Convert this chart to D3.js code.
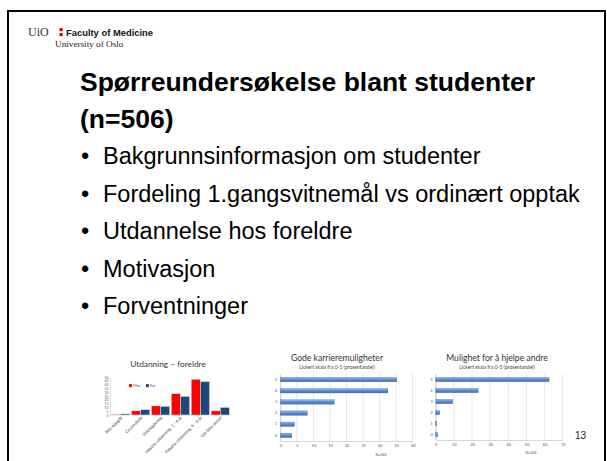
<!DOCTYPE html>
<html>
<head>
<meta charset="utf-8">
<script src="https://cdn.jsdelivr.net/npm/d3@7"></script>
<style>
  body { margin: 0; background: #fff; }
  svg { display: block; }
</style>
</head>
<body>
<svg width="607" height="461"></svg>
<script>
  // slide text
  const titleLines = ["Spørreundersøkelse blant studenter", "(n=506)"];
  const bullets = [
    "Bakgrunnsinformasjon om studenter",
    "Fordeling 1.gangsvitnemål vs ordinært opptak",
    "Utdannelse hos foreldre",
    "Motivasjon",
    "Forventninger"
  ];

  // chart 1: education of parents (%)
  const eduCats = ["Ikke oppgitt", "Grunnskole", "Videregående",
    "Høyere utdanning, 1 - 4 år", "Høyere utdanning, 4 - 6 år", "Vet ikke/annet"];
  const eduSeries = ["Mor", "Far"];
  const eduMor = [1, 5.5, 12, 28, 47, 5.5];
  const eduFar = [1.5, 7, 11.5, 24.5, 44, 10];
  const eduTicks = [0, 5, 10, 15, 20, 25, 30, 35, 40, 45, 50];

  // chart 2 and 3: Likert 0-5 (%)
  const likertCats = ["5", "4", "3", "2", "1", "0"];
  const karriere = [35.2, 32.5, 16.3, 8.2, 4.3, 3.5];
  const karriereTicks = [0, 5, 10, 15, 20, 25, 30, 35, 40];
  const hjelpe = [62.5, 23.5, 9.4, 2.2, 0.6, 1.1];
  const hjelpeTicks = [0, 10, 20, 30, 40, 50, 60, 70];

  const svg = d3.select("svg");
  const sans = "'Liberation Sans', Arial, sans-serif";
  const serif = "'Liberation Serif', 'Times New Roman', serif";
  const small = "Lato, 'Open Sans', sans-serif";

  // frame
  svg.append("rect")
    .attr("x", 8).attr("y", 11).attr("width", 597).attr("height", 470)
    .attr("fill", "none").attr("stroke", "#000").attr("stroke-width", 2);

  // header logo
  svg.append("text").attr("x", 28).attr("y", 36)
    .attr("font-family", serif).attr("font-size", 12).attr("fill", "#333")
    .text("UiO");
  [28, 33].forEach(yy => svg.append("rect")
    .attr("x", 59.5).attr("y", yy).attr("width", 3.2).attr("height", 3.2)
    .attr("rx", 0.8).attr("fill", "#dd0000"));
  svg.append("text").attr("x", 66).attr("y", 36)
    .attr("font-family", sans).attr("font-weight", "bold").attr("font-size", 9.4)
    .attr("fill", "#111").text("Faculty of Medicine");
  svg.append("text").attr("x", 55).attr("y", 46.5)
    .attr("font-family", serif).attr("font-size", 9.2).attr("fill", "#222")
    .text("University of Oslo");

  // title
  svg.selectAll("text.title").data(titleLines).join("text")
    .attr("class", "title")
    .attr("x", 80).attr("y", (d, i) => 91 + i * 37)
    .attr("font-family", sans).attr("font-weight", "bold").attr("font-size", 26.5)
    .attr("fill", "#000").text(d => d);

  // bullets
  const bl = svg.selectAll("g.bullet").data(bullets).join("g")
    .attr("class", "bullet")
    .attr("transform", (d, i) => `translate(0,${164 + i * 37.5})`);
  bl.append("text").attr("x", 81).attr("font-family", sans).attr("font-size", 23.5)
    .text("•");
  bl.append("text").attr("x", 103).attr("font-family", sans).attr("font-size", 23.5)
    .text(d => d);

  // ---------- chart 1: grouped bars ----------
  const x0 = d3.scaleBand().domain(eduCats).range([111, 230]).paddingInner(0.08).paddingOuter(0.03);
  const x1 = d3.scaleBand().domain(eduSeries).range([0, x0.bandwidth()]);
  const y1 = d3.scaleLinear().domain([0, 50]).range([415, 377]);
  const eduColor = d3.scaleOrdinal().domain(eduSeries).range(["#ff0000", "#1f497d"]);
  const eduRows = eduCats.map((c, i) => ({ cat: c, Mor: eduMor[i], Far: eduFar[i] }));

  const c1 = svg.append("g");
  c1.append("text").attr("x", 168).attr("y", 367).attr("text-anchor", "middle")
    .attr("font-family", small).attr("font-size", 8.3).attr("fill", "#333")
    .text("Utdanning – foreldre");

  const yAx = c1.append("g").attr("transform", "translate(110,0)")
    .call(d3.axisLeft(y1).tickValues(eduTicks).tickSize(0).tickPadding(1.5));
  yAx.select(".domain").attr("stroke", "#bbb").attr("stroke-width", 0.5);
  yAx.selectAll("text").attr("font-family", small).attr("font-size", 3.5).attr("fill", "#666");

  c1.append("line").attr("x1", 110).attr("x2", 231).attr("y1", 415).attr("y2", 415)
    .attr("stroke", "#bbb").attr("stroke-width", 0.5);

  const grp = c1.selectAll("g.grp").data(eduRows).join("g")
    .attr("class", "grp").attr("transform", d => `translate(${x0(d.cat)},0)`);
  grp.selectAll("rect").data(d => eduSeries.map(s => ({ s, v: d[s] }))).join("rect")
    .attr("x", d => x1(d.s)).attr("width", x1.bandwidth())
    .attr("y", d => y1(d.v)).attr("height", d => y1(0) - y1(d.v))
    .attr("fill", d => eduColor(d.s))
    .attr("stroke", "#e6e6e6").attr("stroke-width", 0.5);

  c1.selectAll("text.cat").data(eduCats).join("text")
    .attr("class", "cat")
    .attr("transform", d => `translate(${x0(d) + x0.bandwidth() / 2 + 2},418) rotate(-45)`)
    .attr("text-anchor", "end").attr("font-family", small).attr("font-size", 4.4)
    .attr("fill", "#444").text(d => d);

  const leg = c1.selectAll("g.leg").data(eduSeries).join("g")
    .attr("class", "leg").attr("transform", (d, i) => `translate(${129 + i * 17},${y1(38.5)})`);
  leg.append("rect").attr("y", -1.6).attr("width", 3).attr("height", 3).attr("fill", d => eduColor(d));
  leg.append("text").attr("x", 4).attr("dy", "0.35em").attr("font-family", small)
    .attr("font-size", 4).attr("fill", "#555").text(d => d);

  // ---------- bar gradient ----------
  const defs = svg.append("defs");
  const grad = defs.append("linearGradient").attr("id", "blueBar")
    .attr("x1", 0).attr("y1", 0).attr("x2", 0).attr("y2", 1);
  grad.append("stop").attr("offset", "0%").attr("stop-color", "#9dbde9");
  grad.append("stop").attr("offset", "45%").attr("stop-color", "#5b8ed6");
  grad.append("stop").attr("offset", "100%").attr("stop-color", "#3c6fb8");

  // ---------- chart 2 and 3: horizontal bars ----------
  function hbar(opts) {
    const g = svg.append("g");
    const x = d3.scaleLinear().domain([0, opts.max]).range(opts.xr);
    const y = d3.scaleBand().domain(likertCats).range(opts.yr).paddingInner(0.6).paddingOuter(0.3);

    g.append("text").attr("x", opts.tx).attr("y", 361).attr("text-anchor", "middle")
      .attr("font-family", small).attr("font-size", 8.6).attr("fill", "#333").text(opts.title);
    g.append("text").attr("x", opts.tx).attr("y", 368.5).attr("text-anchor", "middle")
      .attr("font-family", small).attr("font-size", 5).attr("fill", "#444")
      .text("Lickert skala fra 0-5 (prosentandel)");

    g.selectAll("line.grid").data(opts.ticks).join("line")
      .attr("class", "grid")
      .attr("x1", d => x(d)).attr("x2", d => x(d))
      .attr("y1", opts.yr[0]).attr("y2", opts.yr[1])
      .attr("stroke", "#d9d9d9").attr("stroke-width", 0.6);

    const xa = g.append("g").attr("transform", `translate(0,${opts.yr[1]})`)
      .call(d3.axisBottom(x).tickValues(opts.ticks).tickSize(0).tickPadding(3));
    xa.select(".domain").attr("stroke", "#bbb").attr("stroke-width", 0.6);
    xa.selectAll("text").attr("font-family", small).attr("font-size", 4).attr("fill", "#555");

    const ya = g.append("g").attr("transform", `translate(${opts.xr[0]},0)`)
      .call(d3.axisLeft(y).tickSize(0).tickPadding(3));
    ya.select(".domain").attr("stroke", "#bbb").attr("stroke-width", 0.6);
    ya.selectAll("text").attr("font-family", small).attr("font-size", 3.8).attr("fill", "#555");

    g.selectAll("rect.bar").data(opts.values).join("rect")
      .attr("class", "bar")
      .attr("x", x(0)).attr("y", (d, i) => y(likertCats[i]))
      .attr("width", d => x(d) - x(0)).attr("height", y.bandwidth())
      .attr("fill", "url(#blueBar)").attr("stroke", "#3a66a8").attr("stroke-width", 0.3);

    g.append("text").attr("x", opts.nx).attr("y", opts.ny).attr("text-anchor", "middle")
      .attr("font-family", small).attr("font-size", 3.6).attr("fill", "#555").text(opts.n);
  }

  hbar({ title: "Gode karrieremuligheter", values: karriere, max: 40, ticks: karriereTicks,
    xr: [280.3, 412.7], yr: [374, 441], tx: 337, nx: 381, ny: 456, n: "N=504" });
  hbar({ title: "Mulighet for å hjelpe andre", values: hjelpe, max: 70, ticks: hjelpeTicks,
    xr: [435.7, 562.7], yr: [374, 440], tx: 497, nx: 531, ny: 454, n: "N=506" });

  // page number
  svg.append("text").attr("x", 575).attr("y", 439)
    .attr("font-family", sans).attr("font-size", 10).attr("fill", "#222").text("13");
</script>
</body>
</html>
